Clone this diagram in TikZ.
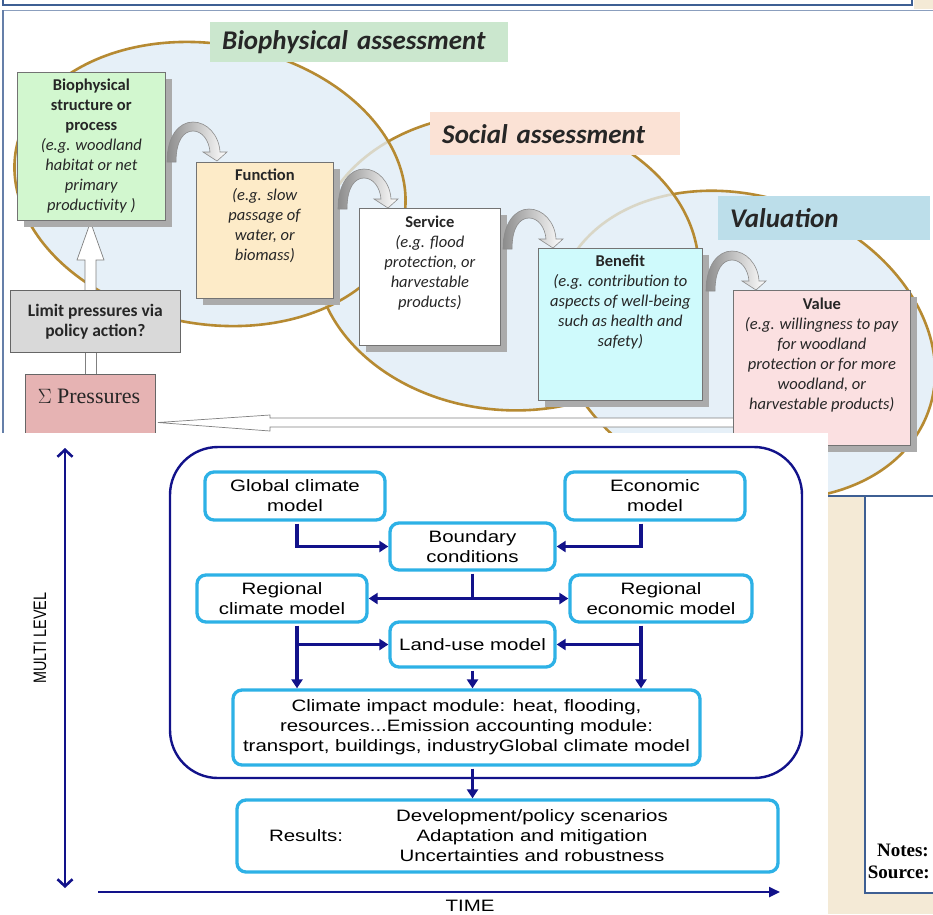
\documentclass[tikz,border=0pt]{standalone}
\usepackage{fontspec}
\setmainfont{Carlito}
\newfontfamily\serifface{Liberation Serif}
\newfontfamily\wideface[FakeStretch=1.24]{Liberation Sans}
\newfontfamily\tallface[FakeStretch=0.8]{Liberation Sans}
\usetikzlibrary{arrows.meta,shadows,calc}

\definecolor{gold}{HTML}{B68A32}
\definecolor{ellfill}{HTML}{E6F0F8}
\definecolor{lblgreen}{HTML}{CBE7CE}
\definecolor{lblpeach}{HTML}{FBE2D5}
\definecolor{lblblue}{HTML}{BCDEEA}
\definecolor{bxgreen}{HTML}{D2F7CF}
\definecolor{bxpeach}{HTML}{FDEBC8}
\definecolor{bxcyan}{HTML}{CFFAFC}
\definecolor{bxpink}{HTML}{FBE0E1}
\definecolor{bxgrey}{HTML}{D9D9D9}
\definecolor{bxrose}{HTML}{E6B3B3}
\definecolor{navy}{HTML}{12128A}
\definecolor{cyanline}{HTML}{2DB1E6}
\definecolor{beige}{HTML}{F4EAD6}
\definecolor{panelblue}{HTML}{3E5F93}
\definecolor{shadowgrey}{HTML}{ABABAB}

\tikzset{
  ellline/.style={draw=gold, line width=2.6pt},
  ellshade/.style={fill=ellfill, fill opacity=0.75},
  lbl/.style={anchor=north west, inner xsep=12pt, inner ysep=0pt, align=left,
    font=\bfseries\itshape\fontsize{27}{30}\selectfont, text=black!85},
  card/.style={draw=black!55, line width=0.7pt, anchor=north west, inner sep=0pt,
    drop shadow={shadow xshift=7pt, shadow yshift=-7pt, fill=shadowgrey, opacity=1}},
  cardtext/.style={align=center, inner sep=0pt, font=\fontsize{16.5}{20}\selectfont, text=black!85},
  blockarrow/.style={draw=black!50, fill=white, line width=0.7pt},
  hookarrow/.pic={
    \shade[left color=black!45, right color=white, draw=black!45, line width=0.6pt]
      (0,0) .. controls (0,-26) and (12,-40) .. (26,-40)
      .. controls (40,-40) and (52,-27) .. (53,-10) -- (60,-10) -- (50,-1) -- (36,-10) -- (43,-10)
      .. controls (42,-22) and (35,-31) .. (26,-31)
      .. controls (17,-31) and (9,-22) .. (9,0) -- cycle;
  },
  mbox/.style={draw=cyanline, line width=3.3pt, rounded corners=9pt, fill=white, align=center,
    inner sep=0pt, font=\wideface\fontsize{16.5}{20}\selectfont},
  mtext/.style={inner sep=0pt, align=center, font=\wideface\fontsize{16.5}{20}\selectfont},
  navarrow/.style={draw=navy, line width=3.3pt, -{Triangle[length=9pt,width=11pt]}},
  navline/.style={draw=navy, line width=3.3pt},
  navboth/.style={draw=navy, line width=3.3pt, {Triangle[length=9pt,width=11pt]}-{Triangle[length=9pt,width=11pt]}}
}

\begin{document}
\begin{tikzpicture}[x=1pt, y=-1pt]
\useasboundingbox (0,0) rectangle (933,914);
\fill[white] (0,0) rectangle (933,914);

% header strip and frame of the upper panel
\fill[beige] (914,0) rectangle (933,9);
\draw[panelblue, line width=1.6pt] (3,0) -- (3,5) -- (912,5) -- (912,0);
\draw[panelblue!60, line width=1pt] (3,10) -- (933,10);
\draw[panelblue!80, line width=1.2pt] (3,10) -- (3,496);

% the three assessment ellipses
\fill[ellfill, rotate around={-20:(745,345)}] (745,345) ellipse [x radius=195pt, y radius=148pt];
\fill[ellfill, rotate around={-5:(507,262)}] (507,262) ellipse [x radius=192pt, y radius=148pt];
\fill[ellfill, rotate around={-10:(210,184)}] (210,184) ellipse [x radius=197pt, y radius=140pt];
\draw[ellline, rotate around={-20:(745,345)}] (745,345) ellipse [x radius=195pt, y radius=148pt];
\fill[ellshade, rotate around={-5:(507,262)}] (507,262) ellipse [x radius=192pt, y radius=148pt];
\draw[ellline, rotate around={-5:(507,262)}] (507,262) ellipse [x radius=192pt, y radius=148pt];
\fill[ellshade, rotate around={-10:(210,184)}] (210,184) ellipse [x radius=197pt, y radius=140pt];
\draw[ellline, rotate around={-10:(210,184)}] (210,184) ellipse [x radius=197pt, y radius=140pt];

% assessment labels
\node[lbl, fill=lblgreen, text width=274pt, minimum height=40pt] (labbio) at (210,22) {Biophysical assessment};
\node[lbl, fill=lblpeach, text width=226pt, minimum height=43pt] (labsoc) at (430,112) {Social assessment};
\node[lbl, fill=lblblue, text width=188pt, minimum height=44pt] (labval) at (718,196) {Valuation};

% block arrows of the pressure loop
\draw[blockarrow] (735,418) -- (270,418) -- (270,415) -- (158,422.5) -- (270,431) -- (270,427) -- (735,427) -- cycle;
\draw[blockarrow] (85,346) rectangle (96,380);
\draw[blockarrow] (85,294) -- (85,260) -- (77,260) -- (90.5,222) -- (104,260) -- (96,260) -- (96,294) -- cycle;

% cascade boxes
\node[card, fill=bxgreen, minimum width=148pt, minimum height=148pt] (bio) at (17,72) {};
\node[card, fill=bxpeach, minimum width=137pt, minimum height=136pt] (fun) at (196,162) {};
\node[card, fill=white, minimum width=141pt, minimum height=137pt] (srv) at (359,208) {};
\node[card, fill=bxcyan, minimum width=164pt, minimum height=152pt] (ben) at (538,248) {};
\node[card, fill=bxpink, minimum width=177pt, minimum height=155pt] (val) at (733,290) {};

\node[cardtext] (biot) at (bio.center) {\textbf{Biophysical}\\\textbf{structure or}\\\textbf{process}\\\textit{(e.g. woodland}\\\textit{habitat or net}\\\textit{primary}\\\textit{productivity )}};
\node[cardtext, anchor=north] (funt) at ([yshift=-7pt]fun.north) {\textbf{Function}\\\textit{(e.g. slow}\\\textit{passage of}\\\textit{water, or}\\\textit{biomass)}};
\node[cardtext, anchor=north] (srvt) at ([yshift=-8pt]srv.north) {\textbf{Service}\\\textit{(e.g. flood}\\\textit{protection, or}\\\textit{harvestable}\\\textit{products)}};
\node[cardtext, anchor=north] (bent) at ([yshift=-7pt]ben.north) {\textbf{Benefit}\\\textit{(e.g. contribution to}\\\textit{aspects of well-being}\\\textit{such as health and}\\\textit{safety)}};
\node[cardtext, anchor=north] (valt) at ([yshift=-8pt]val.north) {\textbf{Value}\\\textit{(e.g. willingness to pay}\\\textit{for woodland}\\\textit{protection or for more}\\\textit{woodland, or}\\\textit{harvestable products)}};

% curved arrows between the cascade steps
\pic at (167,162) {hookarrow};
\pic at (338,209) {hookarrow};
\pic at (503,249) {hookarrow};
\pic at (706,291) {hookarrow};

% pressures and policy response
\node[draw=black!60, fill=bxgrey, line width=0.7pt, minimum width=170pt, minimum height=62pt,
  anchor=north west, align=center, inner sep=0pt, text=black!85,
  font=\bfseries\fontsize{17.5}{20}\selectfont] (lim) at (10,290) {Limit pressures via\\policy action?};
\node[draw=black!60, fill=bxrose, line width=0.7pt, minimum width=130pt, minimum height=70pt,
  anchor=north west] (prs) at (25,374) {};
\node[inner sep=0pt, text=black!85, font=\serifface\fontsize{22}{24}\selectfont] (prst) at (89,396) {$\Sigma$ Pressures};

% notes panel on the right
\fill[beige] (828,496) rectangle (933,914);
\fill[white] (865,496) rectangle (933,893);
\draw[panelblue, line width=1.3pt] (828,496) -- (933,496);
\draw[panelblue, line width=1.3pt] (865,496) -- (865,893) -- (933,893);
\node[anchor=east, inner sep=0pt, font=\serifface\bfseries\fontsize{19}{22}\selectfont] (notes) at (929,850) {Notes:};
\node[anchor=east, inner sep=0pt, font=\serifface\bfseries\fontsize{19}{22}\selectfont] (source) at (930,872) {Source:};

% lower panel: multilevel modelling scheme
\fill[white] (0,433) rectangle (828,914);

\coordinate (mlt) at (65,448);
\coordinate (mlb) at (65,888);
\draw[navy, line width=2.6pt, {Straight Barb[length=7pt,width=15pt]}-{Straight Barb[length=7pt,width=15pt]}] (mlt) -- (mlb);
\node[rotate=90, inner sep=0pt, font=\tallface\fontsize{18}{20}\selectfont] (mltext) at (40,638) {MULTI LEVEL};
\coordinate (ts) at (98,892);
\coordinate (te) at (780,892);
\draw[navy, line width=2.4pt, -{Triangle[length=11pt,width=10pt]}] (ts) -- (te);
\node[mtext] (timetext) at (470,906) {TIME};

\node[draw=navy, line width=2.4pt, rounded corners=48pt, minimum width=632pt, minimum height=331pt] (frame) at (486,612.5) {};

\node[mbox, minimum width=180pt, minimum height=48pt] (gcm) at (295,496) {Global climate\\model};
\node[mbox, minimum width=180pt, minimum height=48pt] (eco) at (655,496) {Economic\\model};
\node[mbox, minimum width=165pt, minimum height=47pt] (bc) at (472.5,546.5) {Boundary\\conditions};
\node[mbox, minimum width=170pt, minimum height=47pt] (rcm) at (282,598.5) {Regional\\climate model};
\node[mbox, minimum width=182pt, minimum height=47pt] (rem) at (661,598.5) {Regional\\economic model};
\node[mbox, minimum width=165pt, minimum height=45pt] (lum) at (472.5,644.5) {Land-use model};
\node[mbox, minimum width=467pt, minimum height=75pt] (cim) at (466.5,727.5) {Climate impact module: heat, flooding,\\resources...Emission accounting module:\\transport, buildings, industryGlobal climate model};
\node[mbox, minimum width=541pt, minimum height=72pt] (res) at (507.5,836) {};
\node[mtext] (reslab) at (306,836) {Results:};
\node[mtext] (reslines) at (532,836) {Development/policy scenarios\\Adaptation and mitigation\\Uncertainties and robustness};

\coordinate (lcol) at (297,0);
\coordinate (rcol) at (641,0);
\draw[navarrow] ([yshift=-2pt]gcm.south -| lcol) |- (bc.west);
\draw[navarrow] ([yshift=-2pt]eco.south -| rcol) |- (bc.east);
\draw[navline] ([yshift=-2pt]bc.south) -- (bc.south |- rcm.east);
\draw[navboth] (rcm.east) -- (rem.west);
\draw[navarrow] ([yshift=-2pt]rcm.south -| lcol) -- (cim.north -| lcol);
\draw[navarrow] (lcol |- lum.west) -- (lum.west);
\draw[navarrow] ([yshift=-2pt]rem.south -| rcol) -- (cim.north -| rcol);
\draw[navarrow] (rcol |- lum.east) -- (lum.east);
\draw[navarrow] ([yshift=-2pt]lum.south) -- (lum.south |- cim.north);
\draw[navarrow] ([yshift=-2pt]cim.south -| lum.south) -- (res.north -| lum.south);
\end{tikzpicture}
\end{document}
